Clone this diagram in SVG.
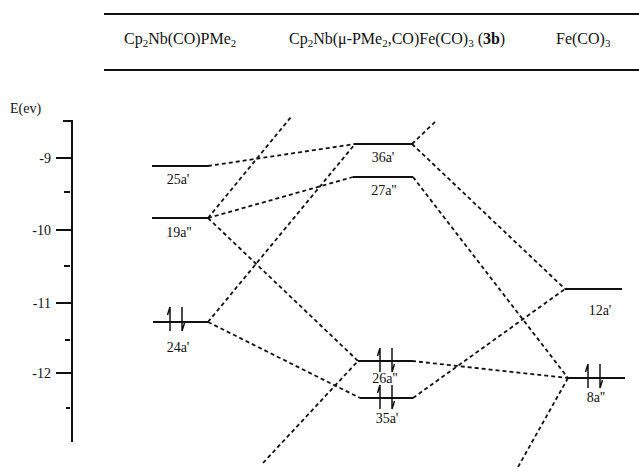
<svg xmlns="http://www.w3.org/2000/svg" width="639" height="471" viewBox="0 0 639 471">
<style>
  text { font-family: "Liberation Serif", "Times New Roman", serif; fill: #111; }
  .hdr { font-size: 16px; }
  .sub { font-size: 11px; }
  .lbl { font-size: 14px; text-anchor: middle; }
  .ax { font-size: 14px; text-anchor: end; }
  .lvl { stroke: #111; stroke-width: 1.8; fill: none; }
  .rule { stroke: #111; stroke-width: 2; fill: none; }
  .conn line { stroke: #111; stroke-width: 1.8; stroke-dasharray: 4 3; fill: none; }
  .e { stroke: #111; stroke-width: 1.5; fill: none; }
</style>
<defs>
  <g id="pair">
    <path class="e" d="M-6,12 V-12 L-8.5,-4 M6,-12 V12 L8.5,4"/>
  </g>
</defs>

<g id="header">
  <line class="rule" x1="104" y1="14" x2="639" y2="14"/>
  <line class="rule" x1="104" y1="70" x2="639" y2="70"/>
  <text class="hdr" x="124" y="44">Cp<tspan class="sub" dy="3">2</tspan><tspan dy="-3">Nb(CO)PMe</tspan><tspan class="sub" dy="3">2</tspan></text>
  <text class="hdr" x="289" y="44">Cp<tspan class="sub" dy="3">2</tspan><tspan dy="-3">Nb(μ-PMe</tspan><tspan class="sub" dy="3">2</tspan><tspan dy="-3">,CO)Fe(CO)</tspan><tspan class="sub" dy="3">3</tspan><tspan dy="-3"> (</tspan><tspan font-weight="bold">3b</tspan>)</text>
  <text class="hdr" x="556" y="44">Fe(CO)<tspan class="sub" dy="3">3</tspan></text>
</g>

<g id="axis">
  <text x="10" y="113" style="font-size:14px">E(ev)</text>
  <path class="rule" d="M63,121 H72 V442"/>
  <line class="rule" x1="56" y1="158" x2="72" y2="158"/>
  <line class="rule" x1="56" y1="230" x2="72" y2="230"/>
  <line class="rule" x1="56" y1="303" x2="72" y2="303"/>
  <line class="rule" x1="56" y1="373" x2="72" y2="373"/>
  <line class="rule" x1="64" y1="192" x2="70" y2="192"/>
  <line class="rule" x1="64" y1="266" x2="70" y2="266"/>
  <line class="rule" x1="65" y1="340" x2="70" y2="340"/>
  <line class="rule" x1="66" y1="408" x2="70" y2="408"/>
  <text class="ax" x="51" y="163">-9</text>
  <text class="ax" x="51" y="235">-10</text>
  <text class="ax" x="51" y="308">-11</text>
  <text class="ax" x="51" y="378">-12</text>
</g>

<g id="connectors" class="conn">
  <line x1="208" y1="166" x2="355" y2="144"/>
  <line x1="208" y1="218" x2="353" y2="177"/>
  <line x1="208" y1="218" x2="291" y2="117"/>
  <line x1="208" y1="218" x2="358" y2="361"/>
  <line x1="208" y1="322" x2="355" y2="144"/>
  <line x1="208" y1="322" x2="360" y2="398"/>
  <line x1="263" y1="463" x2="358" y2="361"/>
  <line x1="412" y1="144" x2="437" y2="120"/>
  <line x1="412" y1="144" x2="565" y2="289"/>
  <line x1="413" y1="177" x2="568" y2="378"/>
  <line x1="412" y1="361" x2="568" y2="378"/>
  <line x1="413" y1="398" x2="565" y2="289"/>
  <line x1="568" y1="378" x2="518" y2="467"/>
</g>

<g id="lvl-25a1">
  <line class="lvl" x1="152" y1="166" x2="208" y2="166"/>
  <text class="lbl" x="178" y="184">25a'</text>
</g>
<g id="lvl-19a2">
  <line class="lvl" x1="152" y1="218" x2="208" y2="218"/>
  <text class="lbl" x="179" y="237">19a''</text>
</g>
<g id="lvl-24a1">
  <line class="lvl" x1="153" y1="322" x2="208" y2="322"/>
  <use href="#pair" x="176" y="319"/>
  <text class="lbl" x="178" y="352">24a'</text>
</g>

<g id="lvl-36a1">
  <line class="lvl" x1="355" y1="144" x2="412" y2="144"/>
  <text class="lbl" x="383" y="162">36a'</text>
</g>
<g id="lvl-27a2">
  <line class="lvl" x1="353" y1="177" x2="413" y2="177"/>
  <text class="lbl" x="384" y="195">27a''</text>
</g>
<g id="lvl-26a2">
  <line class="lvl" x1="358" y1="361" x2="412" y2="361"/>
  <use href="#pair" x="386" y="360"/>
  <text class="lbl" x="385" y="383">26a''</text>
</g>
<g id="lvl-35a1">
  <line class="lvl" x1="360" y1="398" x2="413" y2="398"/>
  <use href="#pair" x="386" y="397"/>
  <text class="lbl" x="387" y="423">35a'</text>
</g>

<g id="lvl-12a1">
  <line class="lvl" x1="565" y1="289" x2="622" y2="289"/>
  <text class="lbl" x="600" y="315">12a'</text>
</g>
<g id="lvl-8a2">
  <line class="lvl" x1="568" y1="378" x2="625" y2="378"/>
  <use href="#pair" x="594" y="376"/>
  <text class="lbl" x="596" y="402">8a''</text>
</g>
</svg>
